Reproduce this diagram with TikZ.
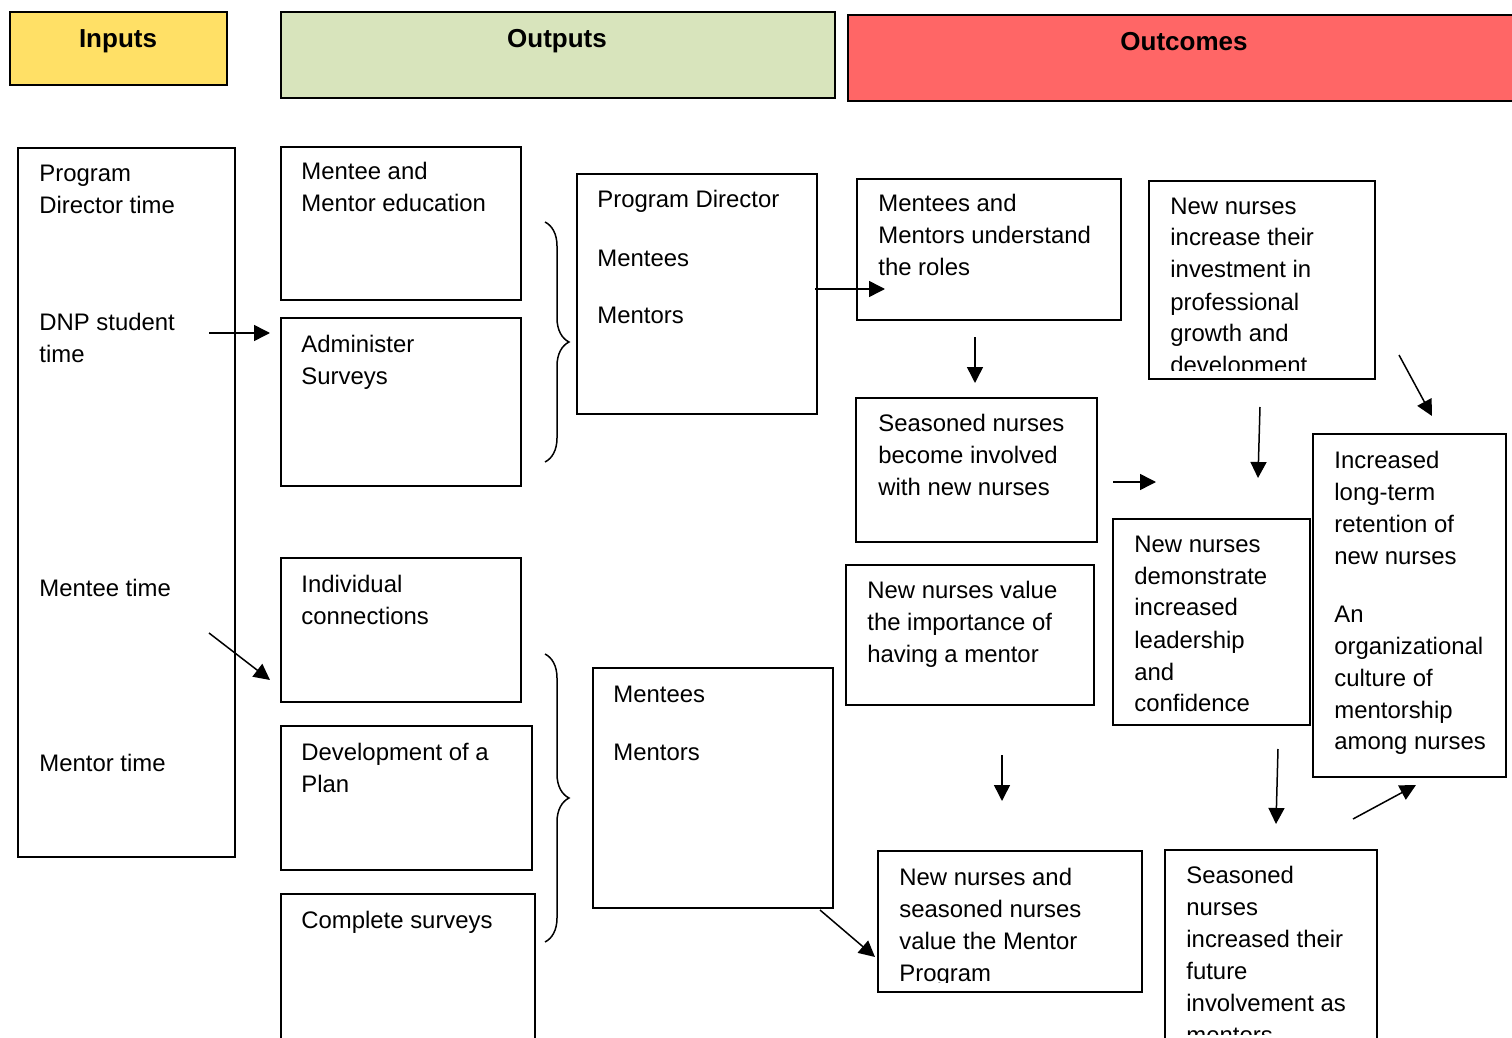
\documentclass[tikz,border=0pt]{standalone}
\usepackage{fontspec}
\setmainfont{Liberation Sans}
\usetikzlibrary{fit,arrows.meta,decorations.pathreplacing}
\definecolor{inyellow}{HTML}{FFE066}
\definecolor{outgreen}{HTML}{D8E4BC}
\definecolor{outred}{HTML}{FF6666}
\newcommand\lns[1]{\begin{tabular}[t]{@{}l@{}}#1\end{tabular}}
\begin{document}
\begin{tikzpicture}[x=0.5pt,y=-0.5pt,
 box/.style={draw, line width=1pt, inner sep=0pt},
 hdr/.style={draw, line width=1pt, inner sep=0pt},
 txt/.style={anchor=base west, inner sep=0pt, font=\fontsize{11.95}{16}\selectfont},
 htxt/.style={anchor=base, inner sep=0pt, font=\bfseries\fontsize{13}{15}\selectfont},
 arr/.style={line width=0.75pt, -{Triangle[length=8pt,width=8pt]}},
 brc/.style={line width=0.75pt, decorate, decoration={brace, amplitude=12pt}}]
\useasboundingbox (0,0) rectangle (1512,1038);
% headers
\node[hdr, fill=inyellow, fit={(10,12)(227,85)}] (hin) {};
\node[htxt] (hint) at (118,48) {Inputs};
\node[hdr, fill=outgreen, fit={(281,12)(835,98)}] (hout) {};
\node[htxt] (houtt) at (557,48) {Outputs};
\node[hdr, fill=outred, fit={(848,15)(1530,101)}] (hoc) {};
\node[htxt] (hoct) at (1184,51) {Outcomes};
% inputs
\node[box, fit={(18,148)(235,857)}] (inp) {};
\node[txt] (inp1) at (39,182) {\lns{Program\\Director time}};
\node[txt] (inp2) at (39,330) {\lns{DNP student\\time}};
\node[txt] (inp3) at (39,596) {\lns{Mentee time}};
\node[txt] (inp4) at (39,771) {\lns{Mentor time}};
% outputs
\node[box, fit={(281,147)(521,300)}] (o1) {};
\node[txt] (o1t) at (301,180) {\lns{Mentee and\\Mentor education}};
\node[box, fit={(281,318)(521,486)}] (o2) {};
\node[txt] (o2t) at (301,352) {\lns{Administer\\Surveys}};
\node[box, fit={(281,558)(521,702)}] (o3) {};
\node[txt] (o3t) at (301,592) {\lns{Individual\\connections}};
\node[box, fit={(281,726)(532,870)}] (o4) {};
\node[txt] (o4t) at (301,760) {\lns{Development of a\\Plan}};
\node[box, fit={(281,894)(535,1045)}] (o5) {};
\node[txt] (o5t) at (301,928) {\lns{Complete surveys}};
\node[box, fit={(577,174)(817,414)}] (pd) {};
\node[txt] (pdt) at (597,208) {\lns{Program Director\\[13pt]Mentees\\[13pt]Mentors}};
\node[box, fit={(593,668)(833,908)}] (mm) {};
\node[txt] (mmt) at (613,702) {\lns{Mentees\\[13pt]Mentors}};
% braces
\coordinate (b1a) at (545,222); \coordinate (b1b) at (545,462);
\draw[brc] (b1a) -- (b1b);
\coordinate (b2a) at (545,654); \coordinate (b2b) at (545,942);
\draw[brc] (b2a) -- (b2b);
% outcomes
\node[box, fit={(857,179)(1121,320)}] (c1) {};
\node[txt] (c1t) at (878,212) {\lns{Mentees and\\Mentors understand\\the roles}};
\node[box, fit={(856,398)(1097,542)}] (c2) {};
\node[txt] (c2t) at (878,431) {\lns{Seasoned nurses\\become involved\\with new nurses}};
\node[box, fit={(846,565)(1094,705)}] (c3) {};
\node[txt] (c3t) at (867,598) {\lns{New nurses value\\the importance of\\having a mentor}};
\begin{scope}
\clip (879,852) rectangle (1141,982);
\node[txt] (c4t) at (899,885) {\lns{New nurses and\\seasoned nurses\\value the Mentor\\Program}};
\end{scope}
\node[box, fit={(878,851)(1142,992)}] (c4) {};
\begin{scope}
\clip (1150,182) rectangle (1374,370);
\node[txt] (c5t) at (1170,214) {\lns{New nurses\\increase their\\investment in\\professional\\growth and\\development}};
\end{scope}
\node[box, fit={(1149,181)(1375,379)}] (c5) {};
\node[box, fit={(1113,519)(1310,725)}] (c6) {};
\node[txt] (c6t) at (1134,552) {\lns{New nurses\\demonstrate\\increased\\leadership\\and\\confidence}};
\begin{scope}
\clip (1166,851) rectangle (1376,1034);
\node[txt] (c7t) at (1186,883) {\lns{Seasoned\\nurses\\increased their\\future\\involvement as\\mentors}};
\end{scope}
\node[box, fit={(1165,850)(1377,1045)}] (c7) {};
\node[box, fit={(1313,434)(1506,777)}] (c8) {};
\node[txt] (c8t) at (1334,468) {\lns{Increased\\long-term\\retention of\\new nurses\\[13pt]An\\organizational\\culture of\\mentorship\\among nurses}};
% arrows
\coordinate (a1s) at (209,333); \coordinate (a1e) at (270,333);
\coordinate (a2s) at (209,633); \coordinate (a2e) at (270,680);
\coordinate (a3s) at (815,289); \coordinate (a3e) at (885,289);
\coordinate (a4s) at (820,910); \coordinate (a4e) at (875,957);
\coordinate (a5s) at (975,337); \coordinate (a5e) at (975,383);
\coordinate (a6s) at (1113,482); \coordinate (a6e) at (1156,482);
\coordinate (a7s) at (1002,755); \coordinate (a7e) at (1002,801);
\coordinate (a8s) at (1260,407); \coordinate (a8e) at (1258,478);
\coordinate (a9s) at (1278,749); \coordinate (a9e) at (1276,824);
\coordinate (a10s) at (1399,355); \coordinate (a10e) at (1432,416);
\coordinate (a11s) at (1353,819); \coordinate (a11e) at (1416,785);
\foreach \i in {1,...,11} \draw[arr] (a\i s) -- (a\i e);
\end{tikzpicture}
\end{document}
